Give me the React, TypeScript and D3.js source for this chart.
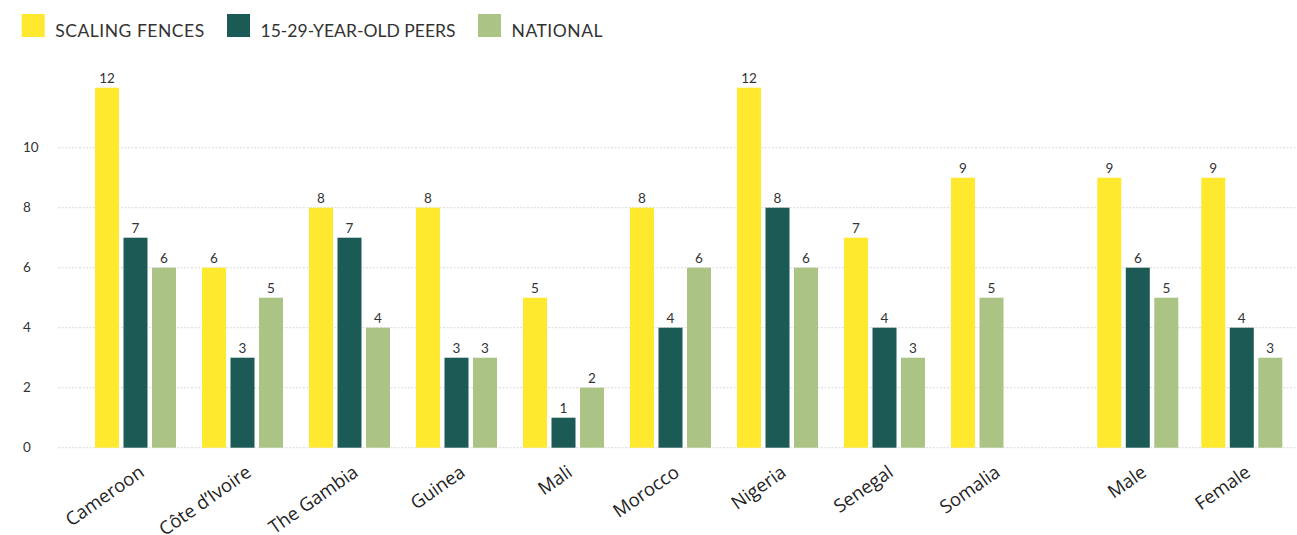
import React from "react";
import * as d3 from "d3";

const countries = ["Cameroon", "Côte d’Ivoire", "The Gambia", "Guinea", "Mali", "Morocco", "Nigeria", "Senegal", "Somalia"];
const genders = ["Male", "Female"];
const seriesNames = ["SCALING FENCES", "15-29-YEAR-OLD PEERS", "NATIONAL"];
const scalingFences = [12, 6, 8, 8, 5, 8, 12, 7, 9, 9, 9];
const peers: (number | null)[] = [7, 3, 7, 3, 1, 4, 8, 4, null, 6, 4];
const national = [6, 5, 4, 3, 2, 6, 6, 3, 5, 5, 3];
const yTicks = [0, 2, 4, 6, 8, 10];
const colors = ["#FFE92F", "#1C5A55", "#ABC486"];

const W = 1297;
const H = 535;

export default function App() {
  const y = d3.scaleLinear().domain([0, 10]).range([447.7, 147.7]);

  const xCountries = d3.scaleBand<string>().domain(countries).range([82, 1045]).paddingInner(0.243).paddingOuter(0.1215);
  const xGenders = d3.scaleBand<string>().domain(genders).range([1085.8, 1293.8]).paddingInner(0.221).paddingOuter(0.1106);

  const allCats = [...countries, ...genders];
  const groupX = (i: number) => (i < countries.length ? xCountries(allCats[i])! : xGenders(allCats[i])!);
  const groupW = xCountries.bandwidth();

  const values = [scalingFences, peers, national];

  const legendX = [21.7, 227, 478];
  const legendTextW = [149, 195, 91];
  const fontNum = "Lato, 'Noto Sans', sans-serif";

  return (
    <svg width={W} height={H} style={{ position: "absolute", left: 0, top: 0, background: "#fff" }} fontFamily={fontNum}>
      {/* legend */}
      {seriesNames.map((s, k) => (
        <g key={s}>
          <rect x={legendX[k]} y={14} width={23} height={23} fill={colors[k]} />
          <text
            x={legendX[k] + 33.5}
            y={36.7}
            fontSize={17.5}
            fill="#333"
            textLength={legendTextW[k]}
            lengthAdjust="spacing"
          >
            {s}
          </text>
        </g>
      ))}
      {/* grid */}
      {yTicks.map((t) => (
        <g key={t}>
          <line x1={58} x2={W} y1={y(t)} y2={y(t)} stroke="#d9d9d9" strokeWidth={1} strokeDasharray="2 1.5" />
          <text x={23} y={y(t)} dy="0.35em" fontSize={13.5} fill="#333">
            {t}
          </text>
        </g>
      ))}
      {/* bars */}
      {allCats.map((c, i) => {
        const keys = [0, 1, 2].filter((k) => values[k][i] !== null);
        const inner = d3
          .scaleBand<number>()
          .domain(keys)
          .range([0, keys.length * 28.5 - 4.5])
          .paddingInner(4.5 / 28.5)
          .paddingOuter(0);
        const gx = groupX(i);
        return (
          <g key={c}>
            {keys.map((k) => {
              const v = values[k][i] as number;
              const bx = gx + inner(k)!;
              return (
                <g key={k}>
                  <rect x={bx} y={y(v)} width={inner.bandwidth()} height={y(0) - y(v)} fill={colors[k]} />
                  <text x={bx + inner.bandwidth() / 2} y={y(v) - 5} textAnchor="middle" fontSize={13.5} fill="#333">
                    {v}
                  </text>
                </g>
              );
            })}
            <text
              transform={`translate(${gx + groupW / 2 + 10},${475}) rotate(-35)`}
              textAnchor="end"
              fontSize={18.5}
              fill="#222"
              fontFamily="'Open Sans', 'Noto Sans', sans-serif"
            >
              {c}
            </text>
          </g>
        );
      })}
    </svg>
  );
}
